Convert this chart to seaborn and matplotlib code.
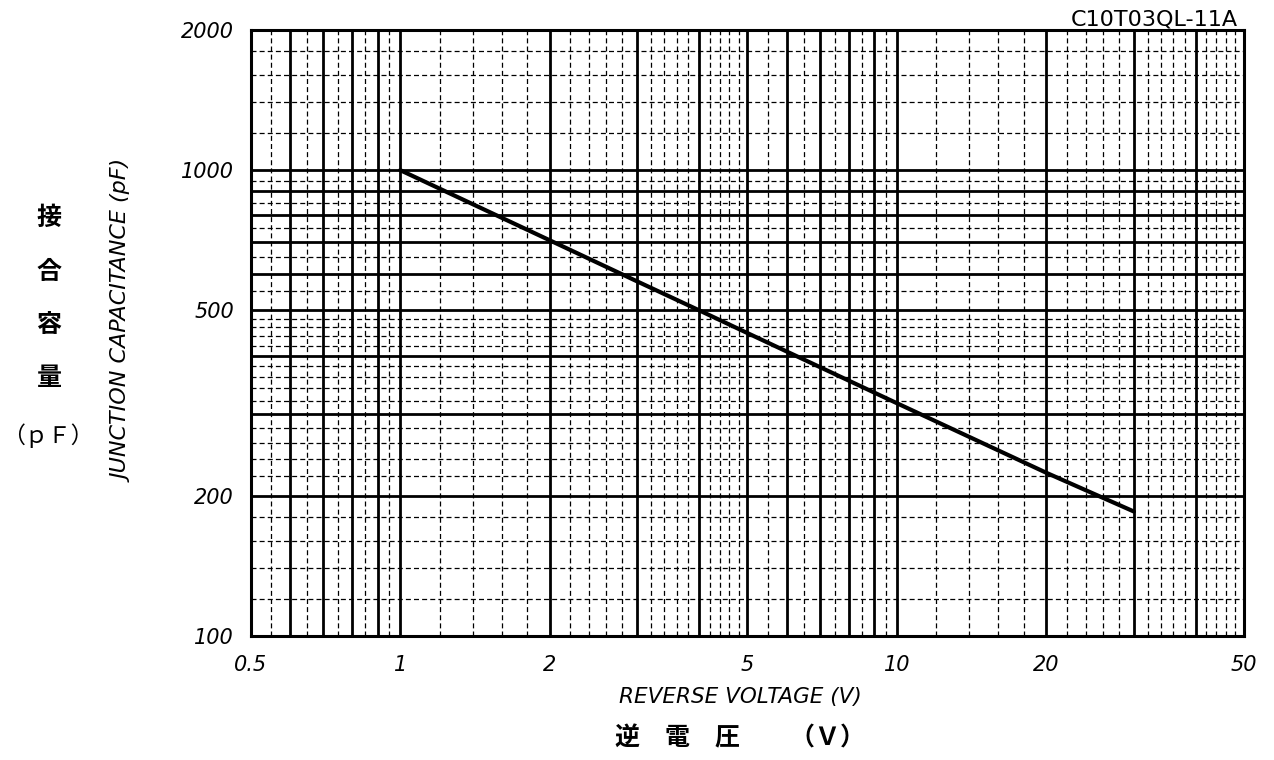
import matplotlib
matplotlib.use('Agg')
import matplotlib.pyplot as plt
from matplotlib.ticker import FixedLocator, FuncFormatter, NullFormatter
import seaborn as sns
import pandas as pd

# Junction capacitance vs reverse voltage
voltage = [1, 2, 3, 4, 5, 10, 20, 30]
capacitance = [1000, 707, 577, 500, 447, 316, 224, 185]

# chart paper: solid and dashed grid positions
x_solid = [0.5, 0.6, 0.7, 0.8, 0.9, 1, 2, 3, 4, 5, 6, 7, 8, 9, 10, 20, 30, 40, 50]
x_dashed = [0.55, 0.65, 0.75, 0.85, 0.95,
            1.2, 1.4, 1.6, 1.8, 2.2, 2.4, 2.6, 2.8,
            3.2, 3.4, 3.6, 3.8, 4.2, 4.4, 4.6, 4.8,
            5.5, 6.5, 7.5, 8.5, 9.5,
            12, 14, 16, 18, 22, 24, 26, 28,
            32, 34, 36, 38, 42, 44, 46, 48]
y_solid = [100, 200, 300, 400, 500, 600, 700, 800, 900, 1000, 2000]
y_dashed = [120, 140, 160, 180, 220, 240, 260, 280,
            320, 340, 360, 380, 420, 440, 460, 480,
            550, 650, 750, 850, 950,
            1200, 1400, 1600, 1800]

x_labels = {0.5: '0.5', 1: '1', 2: '2', 5: '5', 10: '10', 20: '20', 50: '50'}
y_labels = {100: '100', 200: '200', 500: '500', 1000: '1000', 2000: '2000'}

df = pd.DataFrame({'voltage': voltage, 'capacitance': capacitance})

sns.set_theme(style='white')
plt.rcParams['font.family'] = ['DejaVu Sans', 'Noto Sans CJK JP']

fig = plt.figure(figsize=(12.74, 7.6), dpi=100)
ax = fig.add_axes([0.1968, 0.1632, 0.7797, 0.7974])

sns.lineplot(data=df, x='voltage', y='capacitance', color='black',
             linewidth=3, ax=ax, zorder=5)

ax.set_xscale('log')
ax.set_yscale('log')
ax.set_xlim(0.5, 50)
ax.set_ylim(100, 2000)

ax.xaxis.set_major_locator(FixedLocator(x_solid))
ax.xaxis.set_minor_locator(FixedLocator(x_dashed))
ax.yaxis.set_major_locator(FixedLocator(y_solid))
ax.yaxis.set_minor_locator(FixedLocator(y_dashed))
ax.xaxis.set_major_formatter(FuncFormatter(lambda v, p: x_labels.get(round(v, 2), '')))
ax.yaxis.set_major_formatter(FuncFormatter(lambda v, p: y_labels.get(round(v), '')))
ax.xaxis.set_minor_formatter(NullFormatter())
ax.yaxis.set_minor_formatter(NullFormatter())

ax.grid(which='major', color='black', linewidth=2, linestyle='-')
ax.grid(which='minor', color='black', linewidth=0.9, linestyle=(0, (4, 2.5)))
ax.set_axisbelow(True)
ax.tick_params(which='both', length=0)
ax.tick_params(axis='x', pad=14, labelsize=15)
ax.tick_params(axis='y', pad=12, labelsize=15)
for lab in ax.get_xticklabels() + ax.get_yticklabels():
    lab.set_fontstyle('italic')
    lab.set_color('black')

for s in ax.spines.values():
    s.set_color('black')
    s.set_linewidth(2.2)

ax.set_xlabel('')
ax.set_ylabel('')

# English axis titles
fig.text(740 / 1274, 1 - 697 / 760, 'REVERSE VOLTAGE (V)', ha='center', va='center',
         fontsize=15.5, fontstyle='italic', color='black')
fig.text(124 / 1274, 1 - 321 / 760, 'JUNCTION CAPACITANCE (pF)', ha='center', va='center',
         rotation=90, fontsize=16, fontstyle='italic', color='black')

# Japanese axis titles
jp = ['Noto Sans CJK JP', 'DejaVu Sans']
fig.text(740 / 1274, 1 - 738 / 760, '逆　電　圧　　（Ｖ）', ha='center', va='center',
         fontsize=18, fontweight='bold', family=jp, color='black')
for ch, yc in zip(['接', '合', '容', '量'], [218, 272, 325, 378]):
    fig.text(49 / 1274, 1 - yc / 760, ch, ha='center', va='center',
             fontsize=18, fontweight='bold', family=jp, color='black')
fig.text(48 / 1274, 1 - 436 / 760, '（ｐＦ）', ha='center', va='center',
         fontsize=16.5, family=jp, color='black')

fig.text(1238 / 1274, 1 - 19 / 760, 'C10T03QL-11A', ha='right', va='center',
         fontsize=16, color='black')

fig.savefig('out.png', dpi=100, facecolor='white')
